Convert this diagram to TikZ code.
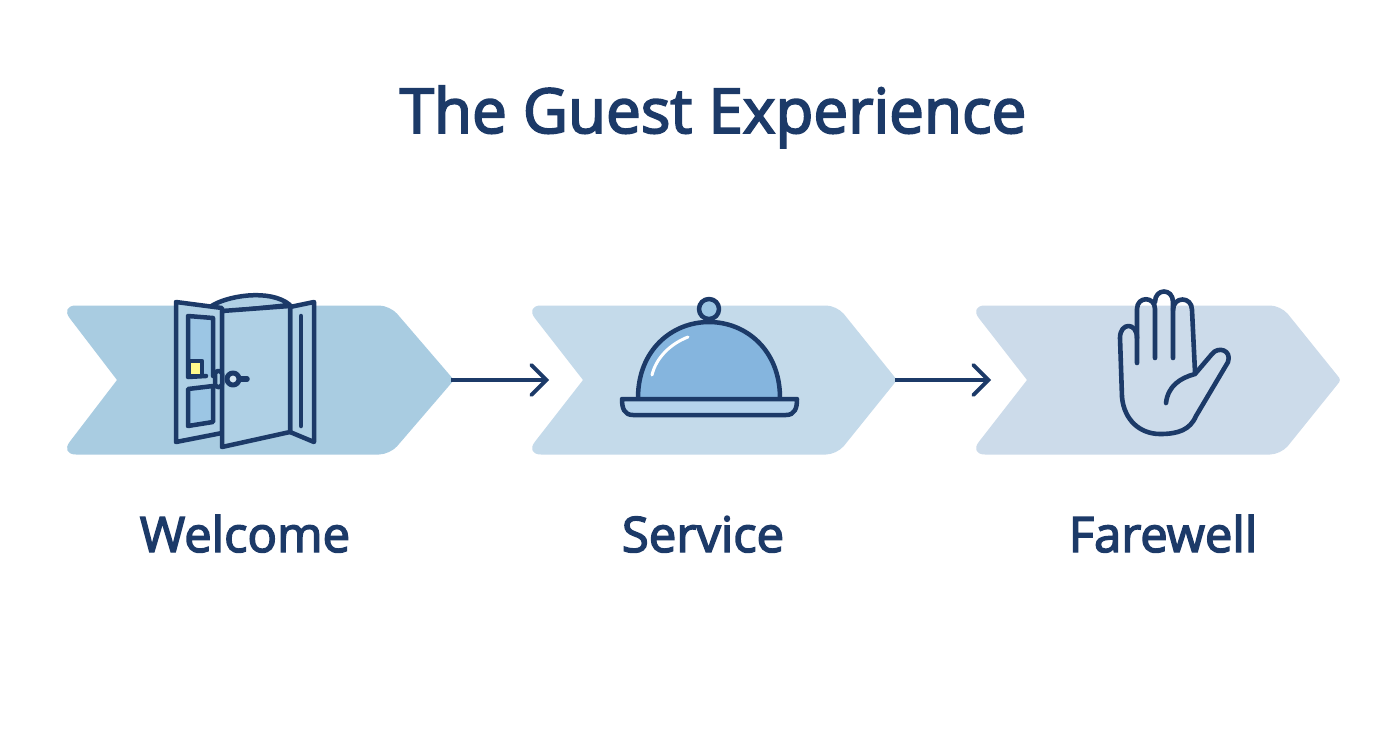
\documentclass[tikz,border=0pt]{standalone}
\usepackage{fontspec}
\usepackage{tikz}
\usetikzlibrary{arrows.meta}
\setmainfont{Open Sans}
\newfontfamily\titlefont[FakeBold=3]{Open Sans}
\definecolor{navy}{HTML}{1C3A68}
\definecolor{welcomeblue}{HTML}{A9CCE1}
\definecolor{serviceblue}{HTML}{C4DAEA}
\definecolor{farewellblue}{HTML}{CCDBEA}
\definecolor{domeblue}{HTML}{85B5DE}
\definecolor{plateblue}{HTML}{B5D3EC}
\definecolor{panelblue}{HTML}{9CC6E4}
\definecolor{doorblue}{HTML}{AFD0E5}
\newcommand{\guestshape}[5]{
    \fill[#5] (#2,380) [rounded corners=16pt] -- (#1,305.5) [rounded corners=11pt] -- (#3,305.5)
    [rounded corners=3pt] -- (#4,380)
    [rounded corners=11pt] -- (#3,454.5) [rounded corners=16pt] -- (#1,454.5) [sharp corners] -- cycle;
}

\begin{document}
\begin{tikzpicture}[x=1pt, y=-1pt]
    \tikzstyle{icon}=[draw=navy, line width=4.5pt, line join=round, line cap=round]
    \tikzstyle{palm}=[draw=navy, line width=4.6pt, line join=round, line cap=round]
    \tikzstyle{link}=[draw=navy, line width=3.8pt, -{Straight Barb[length=15pt, width=30pt, line cap=round]}]
    \tikzstyle{heading}=[anchor=base, text=navy, font=\titlefont\fontsize{62}{66}\selectfont]
    \tikzstyle{caption}=[anchor=base, text=navy, font=\titlefont\fontsize{49}{54}\selectfont]
    \useasboundingbox (0,0) rectangle (1392,752);
    \fill[white] (0,0) rectangle (1392,752);

    \node[heading] (title) at (713,133) {The Guest Experience};

    \guestshape{60}{117}{390}{454}{welcomeblue}
    \guestshape{525}{583}{837}{897}{serviceblue}
    \guestshape{969}{1027}{1281}{1341}{farewellblue}

    \coordinate (welcometip) at (451,380);
    \coordinate (servicein) at (549,380);
    \coordinate (servicetip) at (895,380);
    \coordinate (farewellin) at (991,380);
    \draw[link] (welcometip) -- (servicein);
    \draw[link] (servicetip) -- (farewellin);

    % door
    \draw[icon, fill=doorblue] (210,307) .. controls (225,296) and (270,288) .. (290,305) -- (222,312) -- cycle;
    \draw[icon, fill=doorblue] (176,302) -- (222,308) -- (222,433) -- (176,442) -- cycle;
    \draw[icon, fill=doorblue] (290,307) -- (314,302) -- (314,442) -- (290,432) -- cycle;
    \draw[icon, fill=panelblue] (206,376) -- (188,377) -- (188,316) -- (213,318) -- (213,376);
    \draw[icon, fill=panelblue] (188,389) -- (213,386) -- (213,422) -- (188,426) -- cycle;
    \draw[icon, fill=yellow!45!white] (189,361) rectangle (202,376);
    \draw[icon] (301,316) -- (301,426);
    \draw[icon, fill=doorblue] (222,311) -- (290,306) -- (290,432) -- (222,447) -- cycle;
    \draw[icon, fill=doorblue, rounded corners=3pt] (215,371) rectangle (222,387);
    \draw[icon, line width=5.5pt] (233,379) -- (247,379);
    \draw[icon, line width=5pt, fill=doorblue!50!white] (233,379) circle (6pt);

    % cloche
    \draw[icon, fill=panelblue] (709,309) circle (10pt);
    \draw[icon, fill=domeblue] (638,398) .. controls (638,350) and (672,322) .. (709,322) .. controls (746,322) and (780,350) .. (780,398);
    \draw[white, line width=3pt, line cap=round] (688,337) .. controls (670,344) and (656,358) .. (652,375);
    \draw[icon, fill=plateblue] (622,399) -- (797,399) .. controls (797,408) and (795,415) .. (786,415) -- (633,415) .. controls (624,415) and (622,408) .. cycle;

    % hand
    \draw[palm] (1137,363) -- (1137,309) .. controls (1137,296) and (1155,296) .. (1155,309) -- (1155,358);
    \draw[palm] (1155,302) .. controls (1155,288) and (1173,288) .. (1173,302) -- (1173,358);
    \draw[palm] (1173,310) .. controls (1173,296) and (1192,296) .. (1192,310) -- (1195,372);
    \draw[palm] (1137,338) .. controls (1137,322) and (1120,322) .. (1120,338) -- (1122,397)
    .. controls (1124,420) and (1140,434) .. (1160,434) .. controls (1178,434) and (1190,430) .. (1196,416)
    -- (1228,362) .. controls (1232,350) and (1218,346) .. (1212,354) -- (1195,374)
    .. controls (1180,378) and (1168,386) .. (1166,403);

    \node[caption] (welcome) at (245,552) {Welcome};
    \node[caption] (service) at (703,552) {Service};
    \node[caption] (farewell) at (1163,552) {Farewell};
\end{tikzpicture}
\end{document}
